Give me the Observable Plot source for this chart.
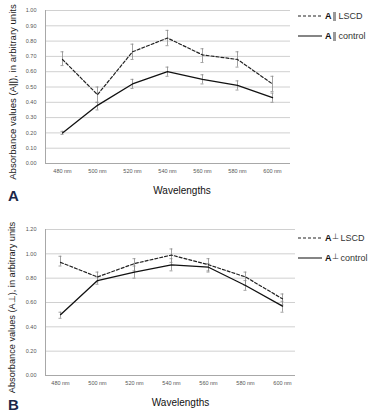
<!DOCTYPE html>
<html>
<head>
<meta charset="utf-8">
<script src="https://cdn.jsdelivr.net/npm/d3@7"></script>
<script src="https://cdn.jsdelivr.net/npm/@observablehq/plot@0.6"></script>
<style>
  body { margin: 0; background: #fff; font-family: "Liberation Sans", Arial, sans-serif; }
  #wrap { position: relative; width: 371px; height: 416px; overflow: hidden; }
  .panel { position: absolute; left: 0; }
  .legend { position: absolute; font-size: 9px; color: #333; white-space: nowrap; }
  .legend .row { position: absolute; left: 0; display: flex; align-items: center; height: 10px; }
  .legend svg { margin-right: 3px; }
  .bar { display: inline-block; width: 3px; height: 9px; background: #9a9a9a; margin: 0 3px 0 1px; }
  .perp { font-size: 8px; position: relative; top: -2px; margin-right: 2px; }
</style>
</head>
<body>
<div id="wrap"></div>
<script>
const wavelengths = ["480 nm", "500 nm", "520 nm", "540 nm", "560 nm", "580 nm", "600 nm"];

// Panel A (A||)
const aLscd   = [0.68, 0.45, 0.73, 0.82, 0.71, 0.68, 0.52];
const aLscdLo = [0.64, 0.40, 0.68, 0.77, 0.66, 0.63, 0.47];
const aLscdHi = [0.73, 0.50, 0.78, 0.87, 0.75, 0.73, 0.57];
const aCtrl   = [0.20, 0.38, 0.52, 0.60, 0.55, 0.51, 0.43];
const aCtrlLo = [0.19, 0.35, 0.49, 0.57, 0.52, 0.48, 0.40];
const aCtrlHi = [0.21, 0.40, 0.55, 0.63, 0.58, 0.54, 0.46];
const aTicks  = [0, 0.1, 0.2, 0.3, 0.4, 0.5, 0.6, 0.7, 0.8, 0.9, 1.0];

// Panel B (A⊥)
const bLscd   = [0.93, 0.81, 0.92, 0.99, 0.91, 0.81, 0.63];
const bLscdLo = [0.90, 0.77, 0.86, 0.93, 0.85, 0.74, 0.58];
const bLscdHi = [0.98, 0.85, 0.96, 1.04, 0.96, 0.85, 0.67];
const bCtrl   = [0.50, 0.78, 0.85, 0.91, 0.89, 0.74, 0.57];
const bCtrlLo = [0.47, 0.75, 0.80, 0.86, 0.86, 0.70, 0.52];
const bCtrlHi = [0.52, 0.81, 0.90, 0.96, 0.92, 0.78, 0.61];
const bTicks  = [0, 0.2, 0.4, 0.6, 0.8, 1.0, 1.2];

function rows(v, lo, hi) {
  return wavelengths.map((w, i) => ({w, v: v[i], lo: lo[i], hi: hi[i]}));
}

const FONT = "Liberation Sans, Arial, sans-serif";

function panel(cfg) {
  const lscd = rows(cfg.lscd, cfg.lscdLo, cfg.lscdHi);
  const ctrl = rows(cfg.ctrl, cfg.ctrlLo, cfg.ctrlHi);
  const errMarks = (data) => [
    Plot.ruleX(data, {x: "w", y1: "lo", y2: "hi", stroke: "#8a8a8a", strokeWidth: 0.8}),
    Plot.ruleY(data, {x1: "w", x2: "w", y: "lo", stroke: "#8a8a8a", strokeWidth: 0.8, insetLeft: -1.5, insetRight: -1.5}),
    Plot.ruleY(data, {x1: "w", x2: "w", y: "hi", stroke: "#8a8a8a", strokeWidth: 0.8, insetLeft: -1.5, insetRight: -1.5})
  ];
  return Plot.plot({
    width: 371,
    height: cfg.height,
    marginTop: cfg.mt,
    marginBottom: cfg.mb,
    marginLeft: 45,
    marginRight: cfg.mr,
    style: {fontFamily: FONT, background: "#fff", overflow: "visible"},
    x: {type: "point", domain: wavelengths, range: cfg.xr, padding: 0, label: null},
    y: {domain: [0, cfg.ymax], label: null},
    marks: [
      Plot.ruleY(cfg.ticks.slice(1), {stroke: "#d0d0d0", strokeWidth: 1}),
      Plot.ruleY([0], {stroke: "#a8a8a8", strokeWidth: 1}),
      Plot.frame({anchor: "left", stroke: "#a8a8a8"}),
      Plot.axisY({ticks: cfg.ticks, tickFormat: d3.format(".2f"), tickSize: 0, tickPadding: 9,
                  fontSize: 5.5, fill: "#555", label: null}),
      Plot.axisX({tickSize: 0, tickPadding: 6, fontSize: 5.5, fill: "#555", label: null}),
      ...errMarks(lscd),
      ...errMarks(ctrl),
      Plot.line(lscd, {x: "w", y: "v", stroke: "#222", strokeWidth: 1.2, strokeDasharray: "3,2"}),
      Plot.line(ctrl, {x: "w", y: "v", stroke: "#111", strokeWidth: 1.3}),
      Plot.text([cfg.ylabel], {frameAnchor: "left", rotate: -90, textAnchor: "middle", lineAnchor: "middle",
                 dx: -33, dy: cfg.ylabelDy, fontSize: cfg.ylabelSize, fill: "#222", fontFamily: FONT}),
      Plot.text(["Wavelengths"], {frameAnchor: "bottom", textAnchor: "middle", lineAnchor: "middle",
                 dx: cfg.xlabelDx, dy: cfg.xlabelDy, fontSize: 10, fill: "#111", fontFamily: FONT}),
      Plot.text([cfg.letter], {frameAnchor: "bottom-left", textAnchor: "middle", lineAnchor: "middle",
                 dx: -32, dy: cfg.letterDy, fontSize: 15, fontWeight: "bold", fill: "#1c2748", fontFamily: FONT})
    ]
  });
}

const wrap = document.getElementById("wrap");

const chartA = panel({
  height: 205, mt: 10, mb: 42, mr: 81, xr: [60, 273], ymax: 1.0, ticks: aTicks,
  lscd: aLscd, lscdLo: aLscdLo, lscdHi: aLscdHi, ctrl: aCtrl, ctrlLo: aCtrlLo, ctrlHi: aCtrlHi,
  ylabel: "Absorbance values (A||), in arbitrary units", ylabelDy: 5, ylabelSize: 9.6,
  xlabelDx: 14, xlabelDy: 27, letter: "A", letterDy: 33
});
chartA.classList.add("panel");
chartA.style.top = "0px";
wrap.appendChild(chartA);

const chartB = panel({
  height: 211, mt: 24, mb: 41, mr: 76, xr: [60, 282], ymax: 1.2, ticks: bTicks,
  lscd: bLscd, lscdLo: bLscdLo, lscdHi: bLscdHi, ctrl: bCtrl, ctrlLo: bCtrlLo, ctrlHi: bCtrlHi,
  ylabel: "Absorbance values (A\u22A5), in arbitrary units", ylabelDy: 5, ylabelSize: 9.2,
  xlabelDx: 10, xlabelDy: 27, letter: "B", letterDy: 30
});
chartB.classList.add("panel");
chartB.style.top = "205px";
wrap.appendChild(chartB);

function legend(top, symbolHtml) {
  const div = document.createElement("div");
  div.className = "legend";
  div.style.left = "298px";
  div.style.top = top + "px";
  const items = [
    {label: "LSCD", dash: "3,2", y: 0},
    {label: "control", dash: null, y: 20}
  ];
  for (const it of items) {
    const r = document.createElement("div");
    r.className = "row";
    r.style.top = it.y + "px";
    r.innerHTML =
      `<svg width="24" height="6"><line x1="0" y1="3" x2="24" y2="3" stroke="#222" stroke-width="1.1"${it.dash ? ` stroke-dasharray="${it.dash}"` : ""}/></svg>` +
      `<b style="color:#111">A</b>${symbolHtml}<span>${it.label}</span>`;
    div.appendChild(r);
  }
  wrap.appendChild(div);
}
legend(11, `<span class="bar"></span>`);
legend(233, `<span class="perp">\u22A5</span>`);
</script>
</body>
</html>
